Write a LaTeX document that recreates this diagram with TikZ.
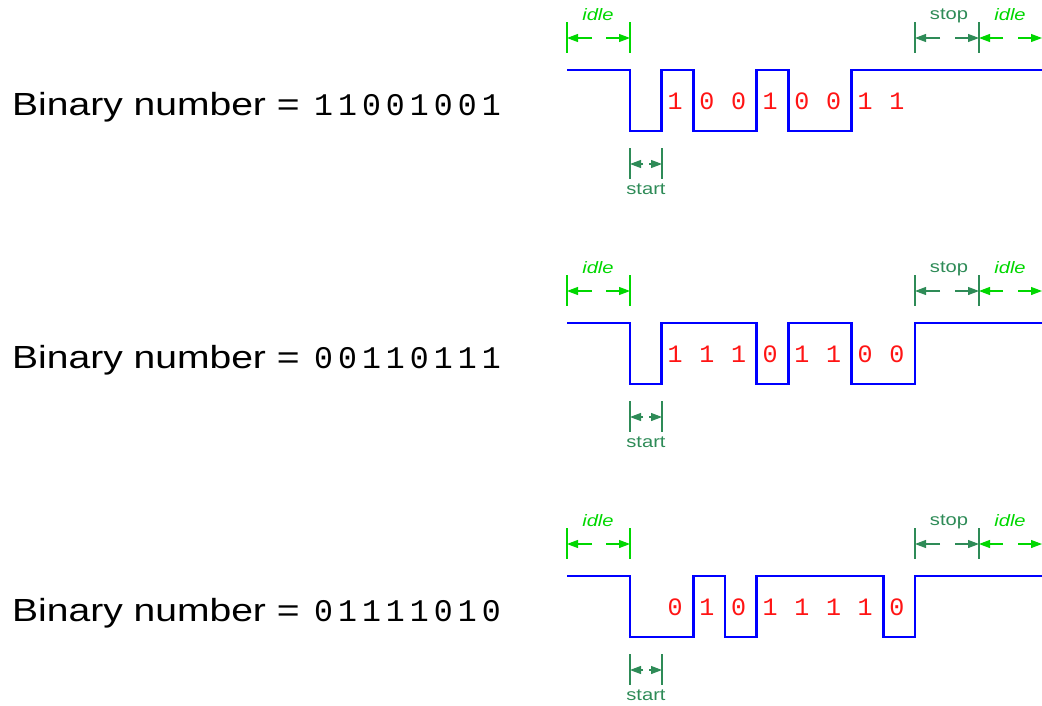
\documentclass[tikz,border=0pt]{standalone}
\usepackage{fontspec}
\setmainfont[FakeStretch=1.22]{Liberation Sans}
\newfontfamily\monof{Liberation Mono}
\newfontfamily\monowide[LetterSpace=16]{Liberation Mono}
\usetikzlibrary{arrows.meta}
\definecolor{wavec}{RGB}{0,0,255}
\definecolor{bitred}{RGB}{255,20,20}
\definecolor{idlegreen}{RGB}{0,215,0}
\definecolor{markgreen}{RGB}{46,139,87}
\tikzset{
  waveline/.style={draw=wavec, line width=2.8pt, line join=miter},
  tickline/.style={line width=1.1pt},
  dimarrow/.style={-{Triangle[length=11pt,width=8pt]}, line width=1.1pt},
  bitlabel/.style={text=bitred, font=\monof\fontsize{25}{25}\selectfont, inner sep=0},
  marklabel/.style={font=\fontsize{16.5}{16.5}\selectfont, inner sep=0},
  titlelabel/.style={anchor=base west, inner sep=0, font=\fontsize{32}{32}\selectfont},
  numlabel/.style={anchor=base west, inner sep=0, font=\monowide\fontsize{31.5}{31.5}\selectfont}
}
% #1 prefix, #2 y offset, #3 frame bits (start, data..., stop), #4 data bits, #5 number
\newcommand\uartrow[5]{%
  \begin{scope}[shift={(0,#2)}, name prefix=#1-]
    \node[titlelabel] (lbl) at (12,115) {Binary number =};
    \node[numlabel] (num) at (314,115) {#5};
    \draw[waveline] (567,70) -- (630,70)
      \foreach \bv [count=\k from 0] in {#3} { |- ({630+31.667*(\k+1)},{70+(1-\bv)*61}) }
      -- (1042,70);
    \foreach \bv [count=\k] in {#4}
      \node[bitlabel] (bit\k) at ({630+31.667*\k+13.5},101) {\bv};
    % idle (left)
    \coordinate (il1) at (567,38); \coordinate (il2) at (630,38);
    \draw[tickline, idlegreen] (567,22) -- (567,53) (630,22) -- (630,53);
    \draw[dimarrow, idlegreen] (592,38) -- (il1);
    \draw[dimarrow, idlegreen] (606,38) -- (il2);
    \node[marklabel, text=idlegreen, font=\itshape\fontsize{16.5}{16.5}\selectfont] (idleL) at (598,15) {idle};
    % start
    \coordinate (st1) at (630,164); \coordinate (st2) at (662,164);
    \draw[tickline, markgreen] (630,148) -- (630,179) (662,148) -- (662,179);
    \draw[dimarrow, markgreen] (643,164) -- (st1);
    \draw[dimarrow, markgreen] (649,164) -- (st2);
    \node[marklabel, text=markgreen] (startL) at (646,189) {start};
    % stop
    \coordinate (sp1) at (915,38); \coordinate (sp2) at (979,38);
    \draw[tickline, markgreen] (915,22) -- (915,53) (979,22) -- (979,53);
    \draw[dimarrow, markgreen] (940,38) -- (sp1);
    \draw[dimarrow, markgreen] (955,38) -- (sp2);
    \node[marklabel, text=markgreen] (stopL) at (949,16) {stop};
    % idle (right)
    \coordinate (ir1) at (979,38); \coordinate (ir2) at (1042,38);
    \draw[dimarrow, idlegreen] (1003,38) -- (ir1);
    \draw[dimarrow, idlegreen] (1018,38) -- (ir2);
    \node[marklabel, text=idlegreen, font=\itshape\fontsize{16.5}{16.5}\selectfont] (idleR) at (1010,15) {idle};
  \end{scope}}
\begin{document}
\begin{tikzpicture}[x=1pt, y=-1pt]
  \useasboundingbox (0,0) rectangle (1042,705);
  \uartrow{r1}{0}{0,1,0,0,1,0,0,1,1,1}{1,0,0,1,0,0,1,1}{11001001}
  \uartrow{r2}{253}{0,1,1,1,0,1,1,0,0,1}{1,1,1,0,1,1,0,0}{00110111}
  \uartrow{r3}{506}{0,0,1,0,1,1,1,1,0,1}{0,1,0,1,1,1,1,0}{01111010}
\end{tikzpicture}
\end{document}
